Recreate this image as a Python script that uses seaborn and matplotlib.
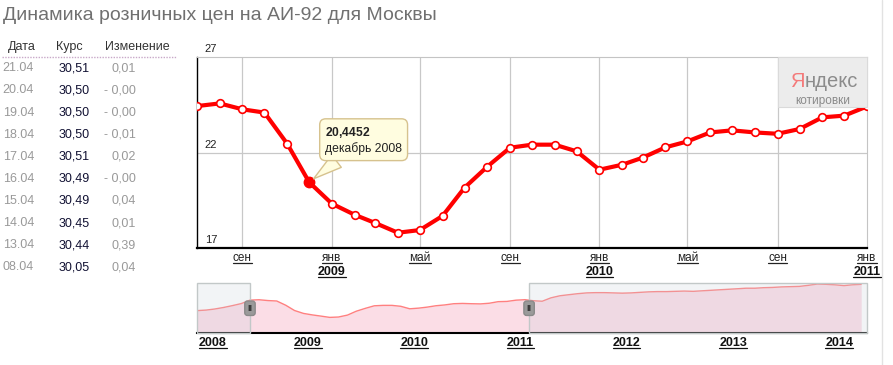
import pandas as pd
import matplotlib
matplotlib.use("Agg")
import matplotlib.pyplot as plt
import matplotlib.dates as mdates
import matplotlib.transforms as mtransforms
from matplotlib.patches import Rectangle
from matplotlib.lines import Line2D
import seaborn as sns

W, H = 893, 365

title = "Динамика розничных цен на АИ-92 для Москвы"

# quote table on the left
table_header = ["Дата", "Курс", "Изменение"]
table_dates = ["21.04", "20.04", "19.04", "18.04", "17.04", "16.04", "15.04", "14.04", "13.04", "08.04"]
table_rates = ["30,51", "30,50", "30,50", "30,50", "30,51", "30,49", "30,49", "30,45", "30,44", "30,05"]
table_changes = ["0,01", "- 0,00", "- 0,00", "- 0,01", "0,02", "- 0,00", "0,04", "0,01", "0,39", "0,04"]

# monthly prices shown in the main window (Jul 2008 - Jan 2011)
months = pd.date_range("2008-07-01", "2011-01-01", freq="MS")
prices = [24.43, 24.57, 24.26, 24.09, 22.46, 20.4452,
          19.32, 18.74, 18.31, 17.80, 17.94, 18.68, 20.16, 21.26, 22.25, 22.41, 22.41, 22.06,
          21.10, 21.36, 21.73, 22.27, 22.58, 23.05, 23.16, 23.05, 22.98, 23.23, 23.84, 23.93,
          24.41]

# rest of the history, only seen in the navigator
head_months = pd.date_range("2008-01-01", "2008-06-01", freq="MS")
head_prices = [20.4, 20.6, 21.0, 21.6, 22.3, 23.1]
tail_months = pd.date_range("2011-02-01", "2014-04-01", freq="MS")
tail_prices = [24.6, 24.2, 24.0, 25.3, 26.1, 26.5, 26.9, 27.2, 27.3, 27.3, 27.2,
               27.1, 27.2, 27.4, 27.6, 27.7, 27.7, 27.8, 27.9, 27.8, 28.0, 28.2, 28.4,
               28.6, 28.8, 29.0, 29.0, 29.2, 29.3, 29.5, 29.6, 29.7, 30.1, 30.6, 30.5,
               30.3, 30.0, 30.3, 30.5]

tip_date = pd.Timestamp("2008-12-01")
tip_label = "декабрь 2008"

month_ticks = pd.to_datetime(["2008-09-01", "2009-01-01", "2009-05-01", "2009-09-01",
                              "2010-01-01", "2010-05-01", "2010-09-01", "2011-01-01"])
month_names = {1: "янв", 5: "май", 9: "сен"}
nav_years = [2008, 2009, 2010, 2011, 2012, 2013, 2014]
nav_start, nav_end = pd.Timestamp("2008-01-01"), pd.Timestamp("2014-04-21")
sel_start, sel_end = pd.Timestamp("2008-07-01"), pd.Timestamp("2011-02-15")

sns.set_style("white")
plt.rcParams['font.family'] = ['Liberation Sans', 'DejaVu Sans']
plt.rcParams['mathtext.fontset'] = 'custom'
plt.rcParams['mathtext.rm'] = 'Liberation Sans'
plt.rcParams['mathtext.bf'] = 'Liberation Sans:bold'


def fx(px):
    return px / W


def fy(py):
    return 1 - py / H


fig = plt.figure(figsize=(W / 100, H / 100), dpi=100)
underlined = []

# ---- main chart
ax = fig.add_axes([fx(197), fy(248), 670 / W, 191 / H])
df = pd.DataFrame({"date": months, "price": prices})
sns.lineplot(data=df, x="date", y="price", ax=ax, color="#ff0000", linewidth=3,
             marker="o", markersize=5.5, markerfacecolor="white",
             markeredgecolor="#ff0000", markeredgewidth=1.2, zorder=3)
tip = df[df["date"] == tip_date]
ax.plot(tip["date"], tip["price"], "o", ms=7.5, color="#ff0000", zorder=4)

ax.set_xlim(months[0], months[-1])
ax.set_ylim(17, 27)
ax.set_xticks(month_ticks[:-1])
ax.set_yticks([22])
ax.grid(True, color="#c8c8c8", lw=0.9)
ax.tick_params(length=0, labelbottom=False, labelleft=False)
ax.set(xlabel="", ylabel="")
for s in ["left", "bottom"]:
    ax.spines[s].set_color("black")
ax.spines["left"].set_linewidth(1)
ax.spines["bottom"].set_linewidth(1.6)
for s in ["top", "right"]:
    ax.spines[s].set_color("#c4c4c4")
    ax.spines[s].set_linewidth(0.8)

for v in [17, 22, 27]:
    ax.annotate(str(v), xy=(0, v), xycoords=("axes fraction", "data"), xytext=(5.5, 2),
                textcoords="offset points", ha="left", va="bottom", fontsize=8,
                color="#222222", annotation_clip=False)

for d in month_ticks:
    t = ax.annotate(month_names[d.month], xy=(d, 0), xycoords=("data", "axes fraction"),
                    xytext=(0, -7.2), textcoords="offset points", ha="center", va="center",
                    fontsize=8.5, color="#222222", annotation_clip=False)
    underlined.append(t)
    if d.month == 1:
        t = ax.annotate(str(d.year), xy=(d, 0), xycoords=("data", "axes fraction"),
                        xytext=(0, -17.6), textcoords="offset points", ha="center",
                        va="center", fontsize=9, weight="bold", color="#111111",
                        annotation_clip=False)
        underlined.append(t)

# tooltip (value in bold via mathtext, month below)
tip_value = tip["price"].iloc[0]
tip_num = f"{tip_value:.4f}".replace(".", "{,}")
ax.annotate(r"$\mathbf{" + tip_num + "}$\n" + tip_label, xy=(tip_date, tip_value),
            xytext=(11.5, 41), textcoords="offset points", ha="left", va="top",
            fontsize=8.7, color="#222222", zorder=6, annotation_clip=False,
            bbox=dict(boxstyle="round,pad=0.45,rounding_size=0.5", fc="#fffde0", ec="#d6c28e", lw=1),
            arrowprops=dict(arrowstyle="wedge,tail_width=1.3,shrink_factor=0.5",
                            fc="#fffde0", ec="#d6c28e", lw=1, shrinkA=0, shrinkB=4))

# ---- navigator
ax2 = fig.add_axes([fx(197), fy(332.5), 670 / W, 49.5 / H])
nav = pd.DataFrame({"date": list(head_months) + list(months) + list(tail_months),
                    "price": head_prices + prices + tail_prices})
ax2.fill_between(nav["date"], nav["price"], 0, color="#fbdde6", lw=0)
sns.lineplot(data=nav, x="date", y="price", ax=ax2, color="#ff8080", linewidth=1)
ax2.set_xlim(nav_start, nav_end)
ax2.set_ylim(12, 31)
ax2.set(xlabel="", ylabel="", xticks=[], yticks=[])
for s in ["left", "right", "top"]:
    ax2.spines[s].set_visible(False)
ax2.spines["bottom"].set_color("black")
ax2.spines["bottom"].set_linewidth(1.5)

blend = mtransforms.blended_transform_factory(ax2.transData, ax2.transAxes)
for a, b in [(nav_start, sel_start), (sel_end, nav_end)]:
    x0, x1 = mdates.date2num(a), mdates.date2num(b)
    ax2.add_patch(Rectangle((x0, 0), x1 - x0, 1, transform=blend, fc=(0.78, 0.81, 0.85, 0.22),
                            ec="#c2c8c8", lw=1, zorder=5, clip_on=False))
for d in [sel_start, sel_end]:
    ax2.annotate("II", xy=(d, 0.49), xycoords=("data", "axes fraction"), ha="center",
                 va="center", fontsize=6.5, color="#333333", weight="bold", zorder=6,
                 bbox=dict(boxstyle="round,pad=0.3,rounding_size=0.3", fc="#9a9a9a", ec="#8a8a8a"))

for yr in nav_years:
    d = pd.Timestamp(yr, 1, 1)
    if d <= nav_start:
        t = ax2.annotate(str(yr), xy=(nav_start, 0), xycoords=("data", "axes fraction"),
                         xytext=(1.5, -7.6), textcoords="offset points", ha="left", va="center",
                         fontsize=9, weight="bold", color="#111111", annotation_clip=False)
    else:
        t = ax2.annotate(str(yr), xy=(d + pd.Timedelta(days=15), 0),
                         xycoords=("data", "axes fraction"), xytext=(0, -7.6),
                         textcoords="offset points", ha="center", va="center",
                         fontsize=9, weight="bold", color="#111111", annotation_clip=False)
    underlined.append(t)

# ---- title and table
fig.text(fx(3), fy(16), title, ha="left", va="center", fontsize=14, color="#707070")
for txt, x in zip(table_header, [8.3, 56, 104.7]):
    fig.text(fx(x), fy(46.7), txt, ha="left", va="center", fontsize=9, color="#333333")
fig.add_artist(Line2D([fx(2), fx(177)], [fy(57.3)] * 2, transform=fig.transFigure,
                      color="#c8a8c8", lw=1, linestyle=(0, (1, 1))))
for i, (d, r, c) in enumerate(zip(table_dates, table_rates, table_changes)):
    y = fy(68.3 + 22.1 * i)
    fig.text(fx(2.7), y, d, ha="left", va="center", fontsize=9, color="#999999")
    fig.text(fx(89.7), y, r, ha="right", va="center", fontsize=9, color="#111133")
    fig.text(fx(135.7), y, c, ha="right", va="center", fontsize=9, color="#999999")

# ---- logo
fig.add_artist(Rectangle((fx(778), fy(107)), 89 / W, 50 / H, transform=fig.transFigure,
                         fc="#ececec", ec="#dadada", lw=0.8, zorder=2))
ya = fig.text(fx(790), fy(87), "Я", ha="left", va="baseline", fontsize=14.5,
              color="#f47a7a", zorder=3)
fig.text(fx(822.5), fy(100.7), "котировки", ha="center", va="center", fontsize=8.5,
         color="#8a8a8a", zorder=3)

# page edge
fig.add_artist(Line2D([fx(882)] * 2, [0, 1], transform=fig.transFigure, color="#e2e2e2", lw=1))

fig.canvas.draw()
bb = ya.get_window_extent()
fig.text(bb.x1 / W, fy(87), "ндекс", ha="left", va="baseline", fontsize=14.5,
         color="#8c8c8c", zorder=3)

for t in underlined:
    bb = t.get_window_extent()
    y = bb.y0 + 1.5
    fig.add_artist(Line2D([bb.x0, bb.x1], [y, y], transform=mtransforms.IdentityTransform(),
                          color=t.get_color(), lw=0.9))

fig.savefig("out.png", dpi=100)
